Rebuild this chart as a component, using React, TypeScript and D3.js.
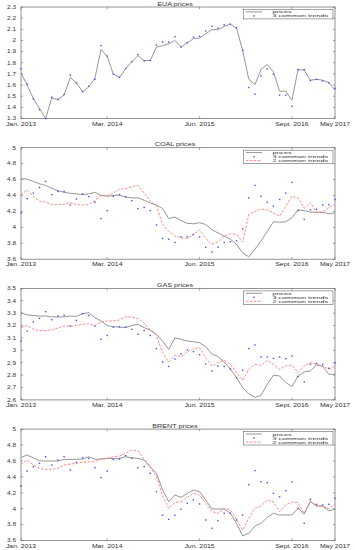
import React, { useEffect, useRef } from "react";
import * as d3 from "d3";

// x tick positions are month indexes from Jan. 2013
const xTickIdx = [0, 14, 29, 44, 51];
const xTickLabels = ["Jan. 2013", "Mar. 2014", "Jun. 2015", "Sept. 2016", "May 2017"];

const euaPrices = [1.709, 1.6, 1.48, 1.39, 1.3, 1.485, 1.47, 1.51, 1.667, 1.62, 1.54, 1.584, 1.66, 1.92, 1.858, 1.697, 1.667, 1.748, 1.808, 1.864, 1.82, 1.82, 1.94, 1.953, 1.97, 2.0, 1.942, 1.978, 2.016, 2.022, 2.06, 2.097, 2.097, 2.127, 2.145, 2.11, 1.91, 1.652, 1.604, 1.742, 1.784, 1.718, 1.545, 1.545, 1.464, 1.739, 1.733, 1.643, 1.652, 1.643, 1.622, 1.554];
const euaTrend3 = [1.748, 1.607, 1.476, 1.38, 1.3, 1.49, 1.47, 1.515, 1.69, 1.62, 1.54, 1.59, 1.652, 1.954, 1.86, 1.697, 1.67, 1.748, 1.81, 1.873, 1.816, 1.82, 1.96, 1.986, 1.986, 2.034, 1.94, 1.98, 2.03, 2.037, 2.085, 2.127, 2.11, 2.14, 2.147, 2.115, 1.91, 1.578, 1.518, 1.682, 1.745, 1.697, 1.51, 1.51, 1.41, 1.739, 1.739, 1.64, 1.65, 1.637, 1.62, 1.57];
const euaTicks = [1.3, 1.4, 1.5, 1.6, 1.7, 1.8, 1.9, 2, 2.1, 2.2, 2.3];

const coalPrices = [4.61, 4.605, 4.576, 4.547, 4.526, 4.49, 4.46, 4.44, 4.427, 4.42, 4.41, 4.42, 4.44, 4.4, 4.39, 4.4, 4.406, 4.38, 4.37, 4.37, 4.34, 4.306, 4.28, 4.236, 4.11, 4.13, 4.086, 4.05, 4.045, 4.057, 4.036, 3.97, 3.93, 3.89, 3.85, 3.787, 3.68, 3.63, 3.725, 3.83, 3.95, 4.07, 4.065, 4.07, 4.12, 4.22, 4.21, 4.19, 4.19, 4.19, 4.17, 4.18];
const coalTrend3 = [4.18, 4.36, 4.43, 4.5, 4.576, 4.41, 4.45, 4.45, 4.28, 4.356, 4.42, 4.385, 4.315, 4.11, 4.21, 4.39, 4.41, 4.385, 4.335, 4.235, 4.25, 4.21, 4.03, 3.86, 3.85, 3.81, 3.88, 3.88, 3.91, 3.88, 3.75, 3.69, 3.75, 3.81, 3.82, 3.83, 3.98, 4.37, 4.526, 4.39, 4.315, 4.265, 4.35, 4.43, 4.564, 4.21, 4.1, 4.22, 4.227, 4.28, 4.285, 4.35];
const coalTrend2 = [4.41, 4.47, 4.39, 4.33, 4.32, 4.285, 4.285, 4.29, 4.31, 4.285, 4.28, 4.285, 4.335, 4.4, 4.4, 4.43, 4.48, 4.485, 4.51, 4.526, 4.43, 4.33, 4.265, 4.036, 3.95, 3.89, 3.87, 3.857, 3.91, 3.966, 3.86, 3.787, 3.82, 3.89, 3.92, 3.91, 3.816, 4.16, 4.2, 4.23, 4.22, 4.18, 4.14, 4.265, 4.39, 4.37, 4.24, 4.31, 4.19, 4.19, 4.25, 4.285];
const coalTicks = [3.6, 3.8, 4, 4.2, 4.4, 4.6, 4.8, 5];

const gasPrices = [3.304, 3.285, 3.282, 3.277, 3.277, 3.27, 3.27, 3.27, 3.277, 3.274, 3.296, 3.304, 3.264, 3.237, 3.2, 3.19, 3.188, 3.183, 3.2, 3.21, 3.183, 3.164, 3.13, 3.075, 3.008, 3.1, 3.089, 3.075, 3.07, 3.062, 3.03, 2.97, 2.95, 2.906, 2.85, 2.78, 2.7, 2.65, 2.62, 2.637, 2.726, 2.8, 2.793, 2.74, 2.707, 2.793, 2.826, 2.834, 2.882, 2.87, 2.807, 2.807];
const gasTrend3 = [3.075, 3.156, 3.23, 3.258, 3.312, 3.247, 3.277, 3.285, 3.196, 3.242, 3.296, 3.282, 3.196, 3.089, 3.12, 3.188, 3.19, 3.19, 3.17, 3.13, 3.16, 3.12, 3.014, 2.906, 2.87, 2.93, 2.973, 3.003, 2.99, 2.965, 2.89, 2.834, 2.874, 2.87, 2.85, 2.78, 2.84, 3.014, 3.043, 2.946, 2.946, 2.935, 2.946, 2.933, 2.954, 2.788, 2.745, 2.887, 2.895, 2.887, 2.855, 2.9];
const gasTrend2 = [3.183, 3.2, 3.17, 3.159, 3.159, 3.164, 3.18, 3.196, 3.196, 3.2, 3.21, 3.215, 3.2, 3.23, 3.237, 3.237, 3.245, 3.27, 3.27, 3.255, 3.223, 3.164, 3.116, 2.98, 2.906, 2.96, 2.95, 2.987, 3.014, 3.022, 2.94, 2.874, 2.9, 2.92, 2.887, 2.82, 2.758, 2.847, 2.887, 2.88, 2.92, 2.887, 2.847, 2.874, 2.88, 2.82, 2.874, 2.9, 2.887, 2.874, 2.847, 2.874];
const gasTicks = [2.6, 2.7, 2.8, 2.9, 3, 3.1, 3.2, 3.3, 3.4, 3.5];

const brentPrices = [4.645, 4.674, 4.64, 4.603, 4.599, 4.599, 4.599, 4.62, 4.62, 4.62, 4.624, 4.653, 4.62, 4.624, 4.632, 4.628, 4.632, 4.653, 4.64, 4.632, 4.611, 4.528, 4.444, 4.235, 4.089, 4.173, 4.143, 4.193, 4.235, 4.214, 4.11, 3.997, 3.997, 3.997, 3.943, 3.817, 3.659, 3.692, 3.784, 3.817, 3.893, 3.943, 3.922, 3.922, 3.922, 4.005, 3.935, 4.089, 4.035, 4.035, 3.976, 3.993];
const brentTrend3 = [4.285, 4.473, 4.528, 4.57, 4.653, 4.549, 4.611, 4.653, 4.486, 4.582, 4.64, 4.632, 4.515, 4.39, 4.473, 4.62, 4.624, 4.666, 4.632, 4.515, 4.528, 4.444, 4.214, 3.918, 3.867, 3.918, 3.993, 4.068, 4.11, 4.06, 3.859, 3.755, 3.851, 3.943, 3.943, 3.859, 3.922, 4.302, 4.478, 4.34, 4.327, 4.193, 4.15, 4.227, 4.336, 4.005, 3.817, 4.118, 4.056, 4.047, 4.056, 4.131];
const brentTrend2 = [4.557, 4.611, 4.55, 4.507, 4.494, 4.494, 4.507, 4.549, 4.561, 4.57, 4.582, 4.59, 4.59, 4.624, 4.632, 4.653, 4.661, 4.695, 4.737, 4.728, 4.62, 4.52, 4.402, 4.16, 4.005, 4.076, 4.09, 4.143, 4.193, 4.172, 4.068, 3.964, 3.943, 4.005, 3.985, 3.867, 3.734, 3.88, 4.005, 4.035, 4.11, 4.085, 3.964, 4.047, 4.085, 4.076, 3.943, 4.1, 4.035, 4.026, 4.005, 4.056];
const brentTicks = [3.6, 3.8, 4, 4.2, 4.4, 4.6, 4.8, 5];

const panels = [
  { title: "EUA prices", prices: euaPrices, trend3: euaTrend3, trend2: null as number[] | null, ticks: euaTicks },
  { title: "COAL prices", prices: coalPrices, trend3: coalTrend3, trend2: coalTrend2, ticks: coalTicks },
  { title: "GAS prices", prices: gasPrices, trend3: gasTrend3, trend2: gasTrend2, ticks: gasTicks },
  { title: "BRENT prices", prices: brentPrices, trend3: brentTrend3, trend2: brentTrend2, ticks: brentTicks },
];

const W = 355;
const H = 550;
const FONT = "'Liberation Sans', Arial, sans-serif";
const GREY = "#8a8a8a";
const RED = "#ff6262";
const BLUE = "#4848ff";

const App: React.FC = () => {
  const svgRef = useRef<SVGSVGElement | null>(null);

  useEffect(() => {
    if (!svgRef.current) return;
    const svg = d3.select(svgRef.current);
    svg.selectAll("*").remove();

    const left = 21;
    const right = 335;
    const plotH = 111.5;
    const step = 140.7;

    const x = d3.scaleLinear().domain([0, 51]).range([left, right]);

    // squashed text, the original figure was shrunk vertically
    const text = (
      g: d3.Selection<SVGGElement, unknown, null, undefined>,
      tx: number,
      ty: number,
      s: string,
      size: number,
      sy: number,
      anchor: string
    ) =>
      g
        .append("text")
        .attr("transform", `translate(${tx},${ty}) scale(1,${sy})`)
        .attr("text-anchor", anchor)
        .attr("font-family", FONT)
        .attr("font-size", size)
        .attr("fill", "#333")
        .text(s);

    panels.forEach((p, k) => {
      const top = 7 + k * step;
      const bottom = top + plotH;
      const ext = d3.extent(p.ticks) as [number, number];
      const y = d3.scaleLinear().domain(ext).range([bottom, top]);
      const g = svg.append("g");

      // box
      g.append("rect")
        .attr("x", left)
        .attr("y", top)
        .attr("width", right - left)
        .attr("height", plotH)
        .attr("fill", "none")
        .attr("stroke", "#666")
        .attr("stroke-width", 0.7);

      // inward ticks on all sides
      const tl = 2.2;
      xTickIdx.forEach((t, i) => {
        const xx = x(t);
        g.append("line").attr("x1", xx).attr("x2", xx).attr("y1", bottom).attr("y2", bottom - tl).attr("stroke", "#666").attr("stroke-width", 0.6);
        g.append("line").attr("x1", xx).attr("x2", xx).attr("y1", top).attr("y2", top + tl).attr("stroke", "#666").attr("stroke-width", 0.6);
        text(g, xx, bottom + 7, xTickLabels[i], 6.9, 0.72, "middle");
      });
      p.ticks.forEach((t) => {
        const yy = y(t);
        g.append("line").attr("x1", left).attr("x2", left + tl).attr("y1", yy).attr("y2", yy).attr("stroke", "#666").attr("stroke-width", 0.6);
        g.append("line").attr("x1", right).attr("x2", right - tl).attr("y1", yy).attr("y2", yy).attr("stroke", "#666").attr("stroke-width", 0.6);
        text(g, 16, yy + 1.8, d3.format("~g")(t), 6.4, 0.72, "end");
      });

      text(g, 175, top - 1.4, p.title, 7.2, 0.72, "middle");

      const line = d3
        .line<number>()
        .x((_, i) => x(i))
        .y((d) => y(d));

      g.append("path")
        .attr("d", line(p.prices) ?? "")
        .attr("fill", "none")
        .attr("stroke", GREY)
        .attr("stroke-width", 0.9);

      if (p.trend2) {
        g.append("path")
          .attr("d", line(p.trend2) ?? "")
          .attr("fill", "none")
          .attr("stroke", RED)
          .attr("stroke-width", 0.75)
          .attr("stroke-dasharray", "2.5,1.5");
      }

      g.selectAll(".dot")
        .data(p.trend3)
        .enter()
        .append("rect")
        .attr("x", (_, i) => x(i) - 0.7)
        .attr("y", (d) => y(d) - 0.7)
        .attr("width", 1.4)
        .attr("height", 1.4)
        .attr("fill", BLUE);

      // legend
      const rows = p.trend2 ? 3 : 2;
      const lx0 = 243.5;
      const lx1 = 333;
      const ly = top + 2.5;
      g.append("rect")
        .attr("x", lx0)
        .attr("y", ly)
        .attr("width", lx1 - lx0)
        .attr("height", rows * 4 + 1.4)
        .attr("fill", "#fff")
        .attr("stroke", "#666")
        .attr("stroke-width", 0.6);
      const rowY = (r: number) => ly + 2.4 + r * 4;
      g.append("line").attr("x1", 246).attr("x2", 262).attr("y1", rowY(0)).attr("y2", rowY(0)).attr("stroke", GREY).attr("stroke-width", 0.9);
      g.append("rect").attr("x", 253.3).attr("y", rowY(1) - 0.7).attr("width", 1.4).attr("height", 1.4).attr("fill", BLUE);
      if (p.trend2) {
        g.append("line").attr("x1", 246).attr("x2", 262).attr("y1", rowY(2)).attr("y2", rowY(2)).attr("stroke", RED).attr("stroke-width", 0.75).attr("stroke-dasharray", "2.5,1.5");
      }
      const labels = ["prices", "3 common trends", "2 common trends"].slice(0, rows);
      labels.forEach((s, r) => text(g, 272.5, rowY(r) + 1.5, s, 7.2, 0.58, "start"));
    });
  }, []);

  return (
    <svg
      ref={svgRef}
      width={W}
      height={H}
      style={{ position: "absolute", left: 0, top: 0, background: "#fff" }}
    />
  );
};

export default App;
